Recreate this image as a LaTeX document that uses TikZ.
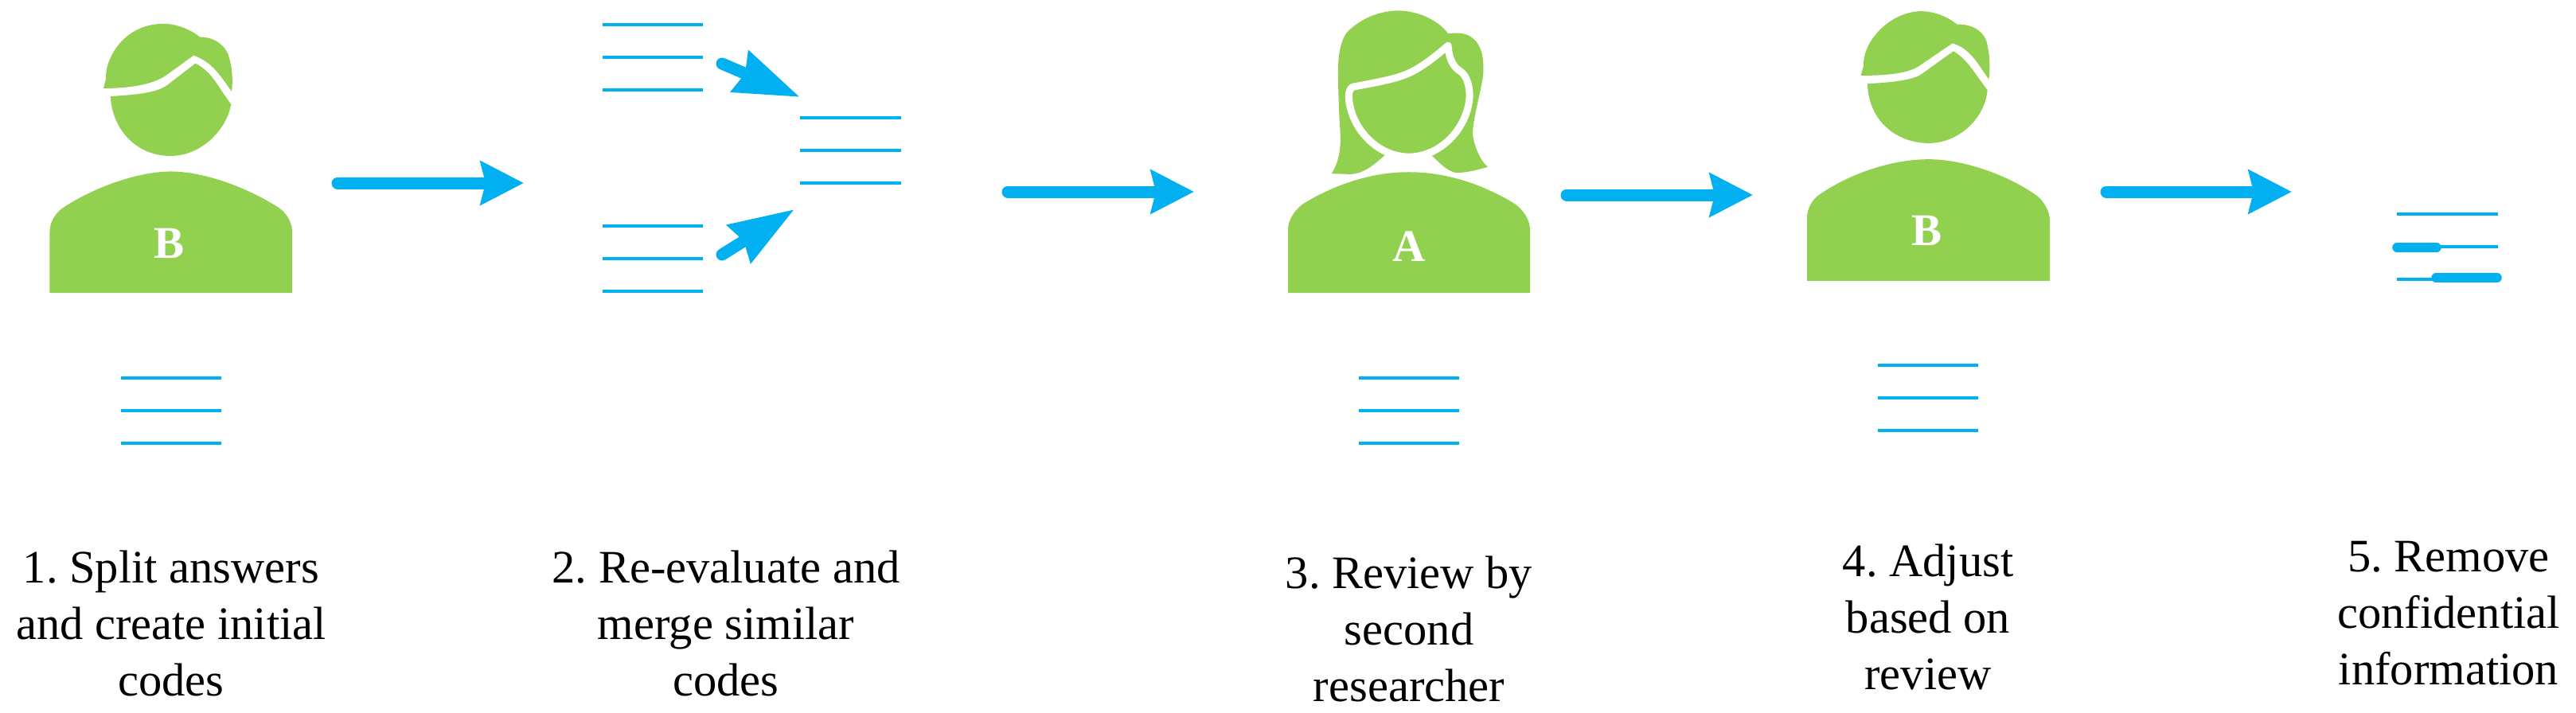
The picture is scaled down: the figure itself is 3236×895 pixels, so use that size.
\documentclass[tikz,border=0pt]{standalone}
\usepackage{fontspec}
\setmainfont{Liberation Serif}
\usetikzlibrary{arrows.meta}
\definecolor{gr}{HTML}{92D050}
\definecolor{bl}{HTML}{00B0F0}
\tikzset{
 x=1pt,y=-1pt,
 body/.style={fill=gr,draw=none},
 codeline/.style={draw=bl,line width=3.6pt},
 fatline/.style={draw=bl,line width=11.5pt,line cap=round},
 bigarrow/.style={draw=bl,fill=bl,line width=15pt,line cap=round,-{Stealth[length=54pt,width=54pt,inset=6pt]}},
 smallarrow/.style={draw=bl,fill=bl,line width=15pt,line cap=round,-{Stealth[length=81pt,width=54pt,inset=6pt]}},
 caption/.style={align=center,font=\frenchspacing\fontsize{58.5}{71}\selectfont,text=black,anchor=base,inner sep=0pt},
 letter/.style={font=\fontsize{57}{60}\selectfont\bfseries,text=white,inner sep=0pt},
}
\newcommand{\codes}[4]{%
 \draw[codeline] (#1,#3) -- (#2,#3);
 \draw[codeline] (#1,#3+41) -- (#2,#3+41);
 \draw[codeline] (#1,#3+82) -- (#2,#3+82);
}
\begin{document}
\begin{tikzpicture}
\useasboundingbox (0,0) rectangle (3236,895);
\fill[white] (0,0) rectangle (3236,895);
% person 1
\begin{scope}[xscale=1/2.24,yscale=1/2.613]
\fill[body] (291,290) -- (298,260) .. controls (295,190) and (350,78) .. (460,78) .. controls (500,78) and (540,100) .. (563,122) .. controls (610,120) and (640,160) .. (645,190) .. controls (655,230) and (655,270) .. (652,300) .. controls (620,250) and (600,205) .. (545,182) -- (470,245) .. controls (440,272) and (380,290) .. (291,290) -- cycle;
\fill[body] (311,316) .. controls (380,312) and (440,305) .. (470,280) -- (550,208) .. controls (600,240) and (610,280) .. (650,342) .. controls (640,420) and (570,512) .. (480,512) .. controls (380,512) and (315,420) .. (311,316) -- cycle;
\fill[body] (140,962) -- (140,760) .. controls (140,725) and (160,695) .. (180,680) .. controls (280,605) and (400,563) .. (481,563) .. controls (562,563) and (680,605) .. (782,680) .. controls (802,695) and (822,725) .. (822,760) -- (822,962) -- cycle;
\end{scope}
\node[letter] (b1) at (213,306) {B};
% person 3
\begin{scope}[shift={(1500,0)},xscale=1/3,yscale=1/2.613]
\fill[body] (518,570) .. controls (545,535) and (552,490) .. (552,450) .. controls (548,400) and (542,300) .. (543,220) .. controls (545,150) and (565,110) .. (590,95) .. controls (640,55) and (710,35) .. (770,35) .. controls (840,35) and (920,65) .. (957,110) .. controls (990,108) and (1020,105) .. (1050,125) .. controls (1085,150) and (1092,190) .. (1090,240) .. controls (1085,290) and (1050,390) .. (1050,440) .. controls (1055,480) and (1080,530) .. (1107,548) .. controls (1060,560) and (1020,568) .. (985,567) .. controls (950,560) and (920,530) .. (895,510) -- (718,510) .. controls (680,540) and (640,570) .. (590,572) -- cycle;
\fill[body,draw=white,line width=9pt,line join=round] (600,285) .. controls (680,272) and (760,260) .. (810,240) .. controls (860,220) and (910,185) .. (957,150) .. controls (960,190) and (975,220) .. (1005,235) .. controls (1030,250) and (1040,290) .. (1038,320) .. controls (1030,420) and (930,515) .. (810,515) .. controls (690,515) and (590,420) .. (583,320) .. controls (582,300) and (590,287) .. (600,285) -- cycle;
\fill[body] (354,962) -- (354,755) .. controls (354,720) and (380,690) .. (410,670) .. controls (540,600) and (680,565) .. (810,565) .. controls (940,565) and (1080,600) .. (1210,670) .. controls (1240,690) and (1266,720) .. (1266,755) -- (1266,962) -- cycle;
\end{scope}
\node[letter] (a1) at (1770,310) {A};
% person 4
\begin{scope}[shift={(2200,0)},xscale=1/3,yscale=1/2.613]
\fill[body] (413,248) -- (423,215) .. controls (420,130) and (530,37) .. (640,37) .. controls (690,37) and (740,55) .. (775,80) .. controls (840,78) and (885,110) .. (890,150) .. controls (900,190) and (900,230) .. (895,260) .. controls (860,220) and (830,160) .. (758,142) -- (640,212) .. controls (600,240) and (520,248) .. (413,248) -- cycle;
\fill[body] (438,275) .. controls (540,270) and (620,262) .. (650,238) -- (762,168) .. controls (820,200) and (840,240) .. (890,296) .. controls (880,390) and (780,470) .. (670,470) .. controls (540,470) and (440,390) .. (438,275) -- cycle;
\fill[body] (210,922) -- (210,715) .. controls (210,685) and (230,655) .. (255,640) .. controls (370,570) and (530,523) .. (668,523) .. controls (800,523) and (970,575) .. (1080,645) .. controls (1105,665) and (1125,695) .. (1125,725) -- (1125,922) -- cycle;
\end{scope}
\node[letter] (b2) at (2420,290) {B};
% code lines
\codes{152}{278}{475}{p1}
\codes{757}{883}{31}{s1}
\codes{757}{883}{284}{s2}
\codes{1005}{1132}{148}{m}
\codes{1707}{1833}{475}{p3}
\codes{2359}{2485}{459}{p4}
\codes{3011}{3138}{269}{p5}
\draw[fatline] (3011,311) -- (3061,311);
\draw[fatline] (3060,349) -- (3137,349);
% arrows
\coordinate (a1s) at (424,230); \coordinate (a1e) at (658,230);
\coordinate (a2s) at (1266,241); \coordinate (a2e) at (1500,241);
\coordinate (a3s) at (1968,245); \coordinate (a3e) at (2202,245);
\coordinate (a4s) at (2646,241); \coordinate (a4e) at (2879,241);
\coordinate (s1s) at (907,80); \coordinate (s1e) at (1005,122);
\coordinate (s2s) at (907,320); \coordinate (s2e) at (998,263);
\draw[bigarrow] (a1s) -- (a1e);
\draw[bigarrow] (a2s) -- (a2e);
\draw[bigarrow] (a3s) -- (a3e);
\draw[bigarrow] (a4s) -- (a4e);
\draw[smallarrow] (s1s) -- (s1e);
\draw[smallarrow] (s2s) -- (s2e);
% captions
\node[caption] (c1) at (215,874) {1. Split answers\\and create initial\\codes};
\node[caption] (c2) at (912,874) {2. Re-evaluate and\\merge similar\\codes};
\node[caption] (c3) at (1770,881) {3. Review by\\second\\researcher};
\node[caption] (c4) at (2422,866) {4. Adjust\\based on\\review};
\node[caption] (c5) at (3076,860) {5. Remove\\confidential\\information};
\end{tikzpicture}
\end{document}
